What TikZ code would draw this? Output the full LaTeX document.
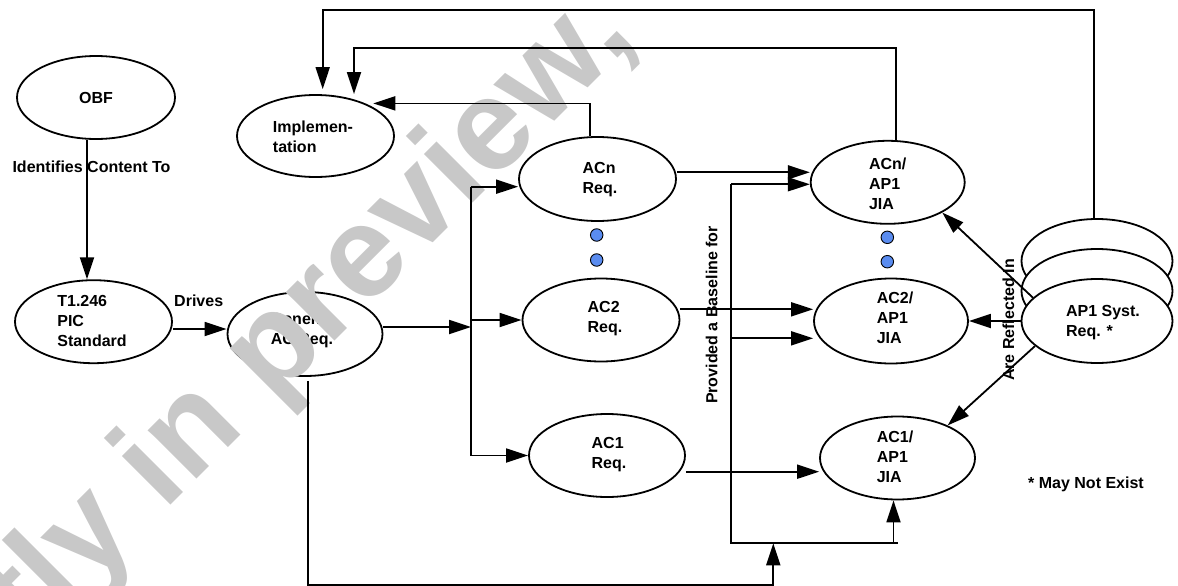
\documentclass[tikz,border=0pt]{standalone}
\usepackage{fontspec}
\setmainfont{Liberation Sans}
\usetikzlibrary{shapes.geometric,arrows.meta,calc}
\definecolor{wmgray}{RGB}{200,200,200}
\definecolor{dotblue}{RGB}{90,140,240}
\begin{document}
\begin{tikzpicture}[x=1pt,y=-1pt,
  oval/.style={ellipse,draw,line width=1.8pt,minimum width=157pt,minimum height=83pt,inner sep=0pt},
  txt/.style={font=\fontsize{16}{20}\selectfont\bfseries,align=left,inner sep=0pt},
  line/.style={line width=1.8pt},
  arr/.style={line width=1.8pt,-{Triangle[length=22pt,width=14pt]}},
  dot/.style={circle,draw,fill=dotblue,line width=0.9pt,minimum size=12.5pt,inner sep=0pt},
  wm/.style={text=wmgray,font=\fontsize{130}{130}\selectfont\bfseries,inner sep=0pt}]
\useasboundingbox (0,0) rectangle (1178,586);
\clip (0,0) rectangle (1178,586);

% ---------- nodes ----------
\node[oval,minimum width=158pt] (obf) at (96,97.5) {};
\node[txt] (obft) at (96,97.5) {OBF};
\node[oval] (t1) at (93.5,321.7) {};
\node[txt] (t1t) at (92,320.7) {T1.246\\PIC\\Standard};
\node[oval,minimum width=155pt,minimum height=84pt] (gen) at (305,334) {};
\node[txt] (gent) at (302,330.7) {Gener.\\AC Req.};
\node[oval,minimum height=82pt] (impl) at (315.5,136) {};
\node[txt] (implt) at (313,136.7) {Implemen-\\tation};

\node[oval,minimum height=84pt] (acn) at (597.5,179) {};
\node[txt] (acnt) at (600,180) {ACn\\Req.};
\node[oval] (ac2) at (601,320) {};
\node[txt] (ac2t) at (605,318.7) {AC2\\Req.};
\node[oval,minimum width=156pt] (ac1) at (607,455.5) {};
\node[txt] (ac1t) at (609,454.3) {AC1\\Req.};

\node[oval,minimum width=154pt] (acnj) at (887.7,182.3) {};
\node[txt] (acnjt) at (887.7,183.8) {ACn/\\AP1\\JIA};
\node[oval,minimum width=154pt,minimum height=85pt] (ac2j) at (891,321) {};
\node[txt] (ac2jt) at (895,318) {AC2/\\AP1\\JIA};
\node[oval,minimum width=155pt] (ac1j) at (897.5,458) {};
\node[txt] (ac1jt) at (895,457) {AC1/\\AP1\\JIA};

\node[oval,fill=white,minimum width=151pt,minimum height=84pt] (stkA) at (1097,261) {};
\node[oval,fill=white,minimum width=151pt,minimum height=84pt] (stkB) at (1097,291) {};
\node[oval,fill=white,minimum width=151pt,minimum height=84pt] (stk) at (1097,321) {};
\node[txt] (stkt) at (1103,323) {AP1 Syst.\\Req. *};

\node[dot] (d1) at (596.7,235) {};
\node[dot] (d2) at (596.7,260) {};
\node[dot] (d3) at (887.3,237.3) {};
\node[dot] (d4) at (887.3,261.7) {};

\node[txt] (note) at (1086,484) {* May Not Exist};

% ---------- watermark ----------
\node[wm,rotate=45,anchor=base west] (wmk) at (32,644) {tly in preview,};

% ---------- helper coordinates ----------
\coordinate (busTop) at (471,186.7);
\coordinate (busIn) at (471,327);
\coordinate (pbTop) at (731,184.3);
\coordinate (pbBot) at (731,543.3);
\coordinate (pb2) at (731,338.3);
\coordinate (pbJoin) at (773.3,543.3);
\coordinate (upx) at ($(ac1j.south)+(-4,0)$);
\coordinate (topA) at (700,10);
\coordinate (topB) at (600,47.7);

% ---------- connectors ----------
\draw[arr] ([xshift=-9pt]obf.south) -- ([xshift=-6.5pt]t1.north);
\node[txt] (lid) at (91.5,166.7) {Identifies Content To};

\draw[arr] ([yshift=-7.3pt]t1.east) -- ([yshift=5pt]gen.west);
\node[txt] (ldr) at (198.7,300.7) {Drives};

\draw[arr] ([yshift=7pt]gen.east) -- (busIn);
\draw[line] (busTop) -- (busTop |- ac1.west);
\draw[arr] (busTop) -- (acn.west |- busTop);
\draw[arr] (busTop |- ac2.west) -- (ac2.west);
\draw[arr] (busTop |- ac1.west) -- (ac1.west);

\draw[arr] ([yshift=6.7pt]acn.east) -- ([yshift=10pt]acnj.west);
\draw[arr] ([yshift=10.7pt]ac2.east) -- ([yshift=11.7pt]ac2j.west);
\draw[arr] ([yshift=-16.2pt]ac1.east) -- ([yshift=-13.7pt]ac1j.west);

\draw[arr] (pbTop) -- (acnj.west |- pbTop);
\draw[line] (pbTop) -- (pbBot) -- ++(167,0);
\draw[arr] (pb2) -- (ac2j.west |- pb2);
\draw[arr] (upx |- pbBot) -- (upx);
\draw[arr] ([xshift=3pt,yshift=-4pt]gen.south) -- ++(0,204) -| (pbJoin);
\node[txt,rotate=90] (lpb) at (711.7,315) {Provided a Baseline for};

\draw[arr,shorten >=5pt] ([xshift=-2.7pt]stkA.north) |- (topA) -| ([xshift=7.2pt]impl.north);
\draw[arr] ([xshift=8pt]acnj.north) |- (topB) -| ([xshift=38.5pt]impl.north);
\draw[arr] ([xshift=-7.5pt]acn.north) |- ([xshift=57.8pt,yshift=-9.3pt]impl.north);

\draw[arr] (stk.160.8) -- (acnj.-29);
\draw[arr] (stk.west) -- (ac2j.east);
\draw[arr] (stk.202.5) -- (ac1j.33);
\node[txt,rotate=90] (lre) at (1008.3,320) {Are Reflected In};
\end{tikzpicture}
\end{document}
